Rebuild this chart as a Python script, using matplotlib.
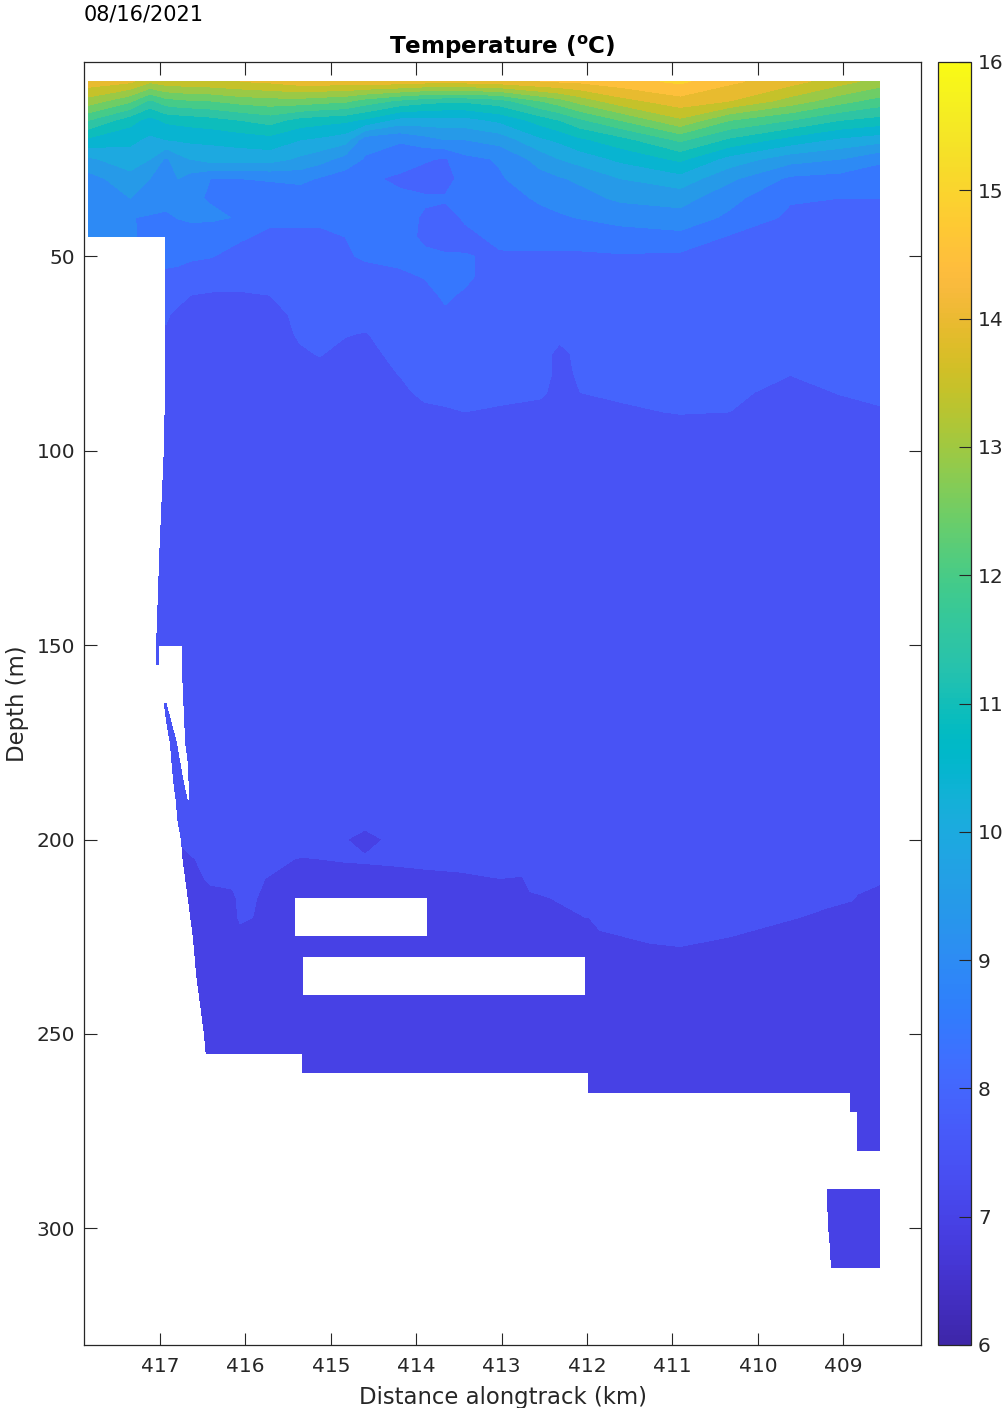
import numpy as np
import matplotlib
matplotlib.use('Agg')
import matplotlib.pyplot as plt
from matplotlib.colors import LinearSegmentedColormap, Normalize
from matplotlib.cm import ScalarMappable

n = np.nan

# parula colours for the colorbar
parula = [
    [0.2422,0.1504,0.6603],[0.2504,0.1650,0.7076],[0.2578,0.1818,0.7511],[0.2647,0.1978,0.7952],
    [0.2706,0.2147,0.8364],[0.2751,0.2342,0.8710],[0.2783,0.2559,0.8991],[0.2803,0.2782,0.9221],
    [0.2813,0.3006,0.9414],[0.2810,0.3228,0.9579],[0.2795,0.3447,0.9717],[0.2760,0.3667,0.9829],
    [0.2699,0.3892,0.9906],[0.2602,0.4123,0.9952],[0.2440,0.4358,0.9988],[0.2206,0.4603,0.9973],
    [0.1963,0.4847,0.9892],[0.1834,0.5074,0.9798],[0.1786,0.5289,0.9682],[0.1764,0.5499,0.9520],
    [0.1687,0.5703,0.9359],[0.1540,0.5902,0.9218],[0.1460,0.6091,0.9079],[0.1380,0.6276,0.8973],
    [0.1248,0.6459,0.8883],[0.1113,0.6635,0.8763],[0.0952,0.6798,0.8598],[0.0689,0.6948,0.8394],
    [0.0297,0.7082,0.8163],[0.0036,0.7203,0.7917],[0.0067,0.7312,0.7660],[0.0433,0.7411,0.7394],
    [0.0964,0.7500,0.7120],[0.1408,0.7584,0.6842],[0.1717,0.7670,0.6554],[0.1938,0.7758,0.6251],
    [0.2161,0.7843,0.5923],[0.2470,0.7918,0.5567],[0.2906,0.7973,0.5188],[0.3406,0.8008,0.4789],
    [0.3909,0.8029,0.4354],[0.4456,0.8024,0.3909],[0.5044,0.7993,0.3480],[0.5616,0.7942,0.3045],
    [0.6174,0.7876,0.2612],[0.6720,0.7793,0.2227],[0.7242,0.7698,0.1910],[0.7738,0.7598,0.1646],
    [0.8203,0.7498,0.1535],[0.8634,0.7406,0.1596],[0.9035,0.7330,0.1774],[0.9393,0.7288,0.2100],
    [0.9728,0.7298,0.2394],[0.9956,0.7434,0.2371],[0.9970,0.7659,0.2199],[0.9952,0.7893,0.2028],
    [0.9892,0.8136,0.1885],[0.9786,0.8386,0.1766],[0.9676,0.8639,0.1643],[0.9610,0.8890,0.1537],
    [0.9597,0.9135,0.1423],[0.9628,0.9373,0.1265],[0.9691,0.9606,0.1064],[0.9769,0.9839,0.0805]]

levels = [6.7,7.2,7.7,8.2,8.7,9.2,9.7,10.2,10.7,11.2,11.7,12.2,12.7,13.2,13.7,14.2,14.7,15.2]

# top 100 m of the section
upper_km = [417.84,417.35,417.12,416.93,416.79,416.65,416.41,416.06,415.71,415.36,415.13,414.83,414.60,414.19,
            413.90,413.66,413.43,413.02,412.55,412.32,412.08,411.61,410.91,410.33,409.62,409.04,408.58]
upper_depth = [5,10,15,20,25,30,35,40,45,50,55,60,65,70,75,80,85,90,95,100]
upper_wall_km = [416.93,416.93,416.93,416.93,416.93,416.93,416.93,416.93,416.93,416.93,416.93,416.93,416.93,
                 416.93,416.93,416.93,416.94,416.94,416.95,416.95]
upper_temp = [
 [14.0,13.8,13.3,13.5,13.5,13.6,13.6,13.7,13.8,14.0,14.0,14.0,14.0,14.0,13.9,13.9,13.9,14.0,14.2,14.25,14.3,14.5,14.8,14.3,13.9,13.4,13.0],
 [13.0,12.3,11.6,12.0,12.1,12.15,12.2,12.4,12.5,12.5,12.4,12.3,12.0,11.6,11.4,11.3,11.3,11.5,12.2,12.5,12.9,13.5,14.0,13.7,13.0,12.4,12.0],
 [11.7,10.9,10.5,10.8,10.85,10.9,11.0,11.2,11.4,11.0,10.9,10.8,10.6,10.0,10.0,10.0,10.0,10.3,10.9,11.2,11.6,12.2,13.1,12.2,11.7,11.2,11.0],
 [10.6,10.3,10.1,10.2,10.25,10.3,10.3,10.4,10.5,10.2,10.1,9.9,8.9,8.75,9.0,9.2,9.2,9.4,10.1,10.3,10.6,11.0,11.8,11.1,10.5,10.1,9.9],
 [9.6,10.0,9.7,9.1,9.5,9.7,9.9,9.9,9.9,9.6,9.4,9.0,8.65,8.45,8.25,8.15,8.55,8.75,9.4,9.7,9.9,10.3,10.8,10.0,9.4,9.2,8.8],
 [9.0,9.5,9.2,9.2,9.2,9.0,8.7,8.7,8.75,8.85,8.65,8.45,8.3,8.1,8.0,8.0,8.4,8.65,9.0,9.15,9.3,9.7,10.0,9.3,8.6,8.5,8.4],
 [8.9,9.2,9.0,8.9,8.9,8.8,8.65,8.5,8.4,8.35,8.35,8.3,8.3,8.3,8.25,8.25,8.35,8.55,8.75,8.85,9.0,9.3,9.4,8.85,8.25,8.2,8.2],
 [8.8,8.72,8.65,8.6,8.72,8.78,8.8,8.65,8.3,8.3,8.3,8.35,8.4,8.35,8.15,8.05,8.25,8.4,8.6,8.65,8.72,8.85,9.0,8.6,8.1,8.05,8.05],
 [8.75,8.75,8.6,8.35,8.4,8.45,8.35,8.25,8.1,8.1,8.1,8.2,8.3,8.3,8.15,8.0,8.1,8.3,8.4,8.4,8.4,8.5,8.55,8.15,8.0,7.95,7.95],
 [n,n,n,8.28,8.27,8.25,8.22,8.05,8.0,8.0,8.05,8.15,8.25,8.28,8.25,8.25,8.22,8.15,8.12,8.12,8.12,8.15,8.1,7.95,7.9,7.9,7.9],
 [n,n,n,8.15,8.13,8.05,7.95,7.9,7.85,7.9,7.95,8.0,8.05,8.15,8.22,8.3,8.28,8.0,8.0,8.0,8.0,8.0,7.95,7.9,7.9,7.9,7.9],
 [n,n,n,8.0,7.85,7.7,7.65,7.65,7.7,7.85,7.9,7.95,7.95,8.0,8.1,8.25,8.15,7.95,7.95,7.95,7.95,7.95,7.9,7.9,7.9,7.9,7.9],
 [n,n,n,7.75,7.6,7.55,7.5,7.5,7.55,7.8,7.85,7.85,7.85,7.9,7.95,8.15,7.95,7.9,7.9,7.9,7.9,7.9,7.9,7.9,7.9,7.9,7.9],
 [n,n,n,7.65,7.55,7.5,7.45,7.45,7.5,7.75,7.85,7.72,7.68,7.85,7.9,7.95,7.9,7.85,7.85,7.8,7.85,7.85,7.85,7.85,7.85,7.85,7.85],
 [n,n,n,7.5,7.5,7.45,7.45,7.45,7.5,7.65,7.72,7.6,7.6,7.8,7.85,7.85,7.85,7.85,7.85,7.6,7.8,7.85,7.85,7.85,7.8,7.85,7.85],
 [n,n,n,7.45,7.45,7.45,7.45,7.45,7.45,7.55,7.6,7.5,7.5,7.72,7.85,7.85,7.85,7.85,7.85,7.6,7.75,7.85,7.85,7.85,7.72,7.8,7.85],
 [n,n,n,7.45,7.45,7.45,7.45,7.45,7.45,7.45,7.5,7.45,7.45,7.6,7.8,7.8,7.8,7.8,7.75,7.6,7.7,7.75,7.8,7.8,7.55,7.72,7.78],
 [n,n,n,7.45,7.45,7.45,7.45,7.45,7.45,7.45,7.45,7.45,7.45,7.5,7.6,7.66,7.7,7.65,7.6,7.55,7.55,7.65,7.72,7.7,7.5,7.55,7.66],
 [n,n,n,7.45,7.45,7.45,7.45,7.45,7.45,7.45,7.45,7.45,7.45,7.45,7.5,7.5,7.55,7.5,7.5,7.5,7.5,7.5,7.55,7.55,7.45,7.5,7.5],
 [n,n,n,7.45,7.45,7.45,7.45,7.45,7.45,7.45,7.45,7.45,7.45,7.45,7.45,7.45,7.45,7.45,7.45,7.45,7.45,7.45,7.45,7.45,7.45,7.45,7.45],
]

# below 100 m; first four columns follow the bottom and the gap beside it
lower_km = [416.93,416.79,416.65,416.41,416.06,415.77,415.43,415.33,415.13,414.83,414.60,414.19,413.87,413.49,
            413.02,412.76,412.67,412.43,412.02,411.98,411.85,411.26,410.91,410.33,409.51,409.18,408.91,408.83,408.58]
lower_depth = [100,125,150,155,160,165,170,175,180,185,190,195,200,205,210,215,220,225,230,235,240,245,250,255,
               260,265,270,275,280,285,290,295,300,305,310]
wall_km = [416.95,417.00,417.04,417.04,416.98,416.95,416.92,416.88,416.86,416.84,416.81,416.79,416.75,416.73,
           416.70,416.67,416.64,416.61,416.59,416.57,416.54,416.51,416.48,416.46,
           416.46,416.46,416.46,416.46,416.46,416.46,416.46,416.46,416.46,416.46,416.46]
strip_km = [416.79,416.79,417.02,417.02,416.97,416.93,416.87,416.81,416.77,416.73,416.68,
            416.41,416.41,416.41,416.41,416.41,416.41,416.41,416.41,416.41,416.41,416.41,416.41,416.41,
            416.41,416.41,416.41,416.41,416.41,416.41,416.41,416.41,416.41,416.41,416.41]
gap_km = [416.60,416.60,416.88,416.88,416.85,416.82,416.79,416.75,416.72,416.70,416.66,
          416.28,416.28,416.28,416.28,416.28,416.28,416.28,416.28,416.28,416.28,416.28,416.28,416.28,
          416.28,416.28,416.28,416.28,416.28,416.28,416.28,416.28,416.28,416.28,416.28]
inner_km = [416.41,416.41,416.74,416.74,416.73,416.72,416.71,416.70,416.67,416.66,416.65,
            416.15,416.15,416.15,416.15,416.15,416.15,416.15,416.15,416.15,416.15,416.15,416.15,416.15,
            416.15,416.15,416.15,416.15,416.15,416.15,416.15,416.15,416.15,416.15,416.15]
far_edge_km = [409.19,409.18,409.17,409.15,409.14]   # 290 to 310 m

band_b = [7.45]*29
band_a = [7.0]*29
gap_row = [7.45,7.45,n]+[7.45]*26
broken_row = [n,n,n]+[7.45]*26
lower_temp = [
 band_b, band_b, band_b,
 gap_row, broken_row, gap_row, gap_row, gap_row, gap_row, gap_row,
 band_b,
 [7.4,7.4,7.4,7.4,7.4,7.4,7.4,7.4,7.4,7.3,7.3,7.35,7.4,7.4,7.4,7.4,7.4,7.4,7.4,7.4,7.4,7.4,7.4,7.4,7.4,7.4,7.4,7.4,7.4],
 [7.25,7.4,7.4,7.4,7.4,7.4,7.4,7.4,7.35,7.21,7.1,7.3,7.4,7.4,7.45,7.45,7.45,7.45,7.5,7.5,7.5,7.5,7.5,7.5,7.5,7.5,7.5,7.5,7.5],
 [7.12,7.3,7.35,7.35,7.35,7.3,7.2,7.18,7.2,7.22,7.23,7.25,7.28,7.3,7.35,7.35,7.4,7.45,7.45,7.45,7.45,7.45,7.45,7.45,7.4,7.4,7.4,7.38,7.35],
 [7.05,7.25,7.28,7.3,7.32,7.2,7.0,7.0,7.0,7.1,7.1,7.12,7.13,7.15,7.2,7.18,7.3,7.35,7.4,7.4,7.4,7.4,7.4,7.4,7.35,7.32,7.3,7.28,7.25],
 [7.0,7.1,7.1,7.12,7.3,7.15,7.0,7.0,7.0,7.0,7.0,7.0,7.0,7.0,7.05,7.05,7.15,7.2,7.3,7.3,7.35,7.35,7.35,7.35,7.3,7.25,7.22,7.18,7.1],
 [7.0,7.0,7.0,7.0,7.3,7.1,7.0,n,n,n,n,n,7.0,7.0,7.0,7.0,7.0,7.05,7.2,7.2,7.3,7.3,7.3,7.35,7.2,7.15,7.1,7.05,7.0],
 [7.0,7.0,7.0,7.0,7.0,7.0,7.0,7.0,7.0,7.0,7.0,7.0,7.0,7.0,7.0,7.0,7.0,7.0,7.0,7.0,7.15,7.25,7.25,7.2,7.05,7.0,7.0,7.0,7.0],
 [7.0,7.0,7.0,7.0,7.0,7.0,7.0,7.0,7.0,7.0,7.0,7.0,7.0,7.0,7.0,7.0,7.0,7.0,7.0,7.0,7.0,7.1,7.15,7.05,7.0,7.0,7.0,7.0,7.0],
 [7.0,7.0,7.0,7.0,7.0,7.0,7.0,7.0,n,n,n,n,n,n,n,n,n,n,7.0,7.0,7.0,7.0,7.0,7.0,7.0,7.0,7.0,7.0,7.0],
 band_a, band_a, band_a, band_a,
 [n,n,n,n,n,n,n,7.0,7.0,7.0,7.0,7.0,7.0,7.0,7.0,7.0,7.0,7.0,7.0,7.0,7.0,7.0,7.0,7.0,7.0,7.0,7.0,7.0,7.0],
 [n,n,n,n,n,n,n,n,n,n,n,n,n,n,n,n,n,n,n,7.0,7.0,7.0,7.0,7.0,7.0,7.0,7.0,7.0,7.0],
 [n,n,n,n,n,n,n,n,n,n,n,n,n,n,n,n,n,n,n,n,n,n,n,n,n,n,7.0,7.0,7.0],
 [n,n,n,n,n,n,n,n,n,n,n,n,n,n,n,n,n,n,n,n,n,n,n,n,n,n,n,7.0,7.0],
 [n,n,n,n,n,n,n,n,n,n,n,n,n,n,n,n,n,n,n,n,n,n,n,n,n,n,n,7.0,7.0],
 [n]*29,
 [n,n,n,n,n,n,n,n,n,n,n,n,n,n,n,n,n,n,n,n,n,n,n,n,n,7.0,7.0,7.0,7.0],
 [n,n,n,n,n,n,n,n,n,n,n,n,n,n,n,n,n,n,n,n,n,n,n,n,n,7.0,7.0,7.0,7.0],
 [n,n,n,n,n,n,n,n,n,n,n,n,n,n,n,n,n,n,n,n,n,n,n,n,n,7.0,7.0,7.0,7.0],
 [n,n,n,n,n,n,n,n,n,n,n,n,n,n,n,n,n,n,n,n,n,n,n,n,n,7.0,7.0,7.0,7.0],
 [n,n,n,n,n,n,n,n,n,n,n,n,n,n,n,n,n,n,n,n,n,n,n,n,n,7.0,7.0,7.0,7.0],
]

x_ticks = [417,416,415,414,413,412,411,410,409]
y_ticks = [50,100,150,200,250,300]
cbar_ticks = [6,7,8,9,10,11,12,13,14,15,16]

ink = '#262626'
W, H = 1008, 1408
cmap = LinearSegmentedColormap.from_list('parula', parula, N=256)
norm = Normalize(6, 16)

fig = plt.figure(figsize=(W/100, H/100), dpi=100)
ax = fig.add_axes([84/W, 1-1345/H, (921-84)/W, (1345-62)/H])
cax = fig.add_axes([938/W, 1-1345/H, (971-938)/W, (1345-62)/H])

# top part
X_up, Y_up = np.meshgrid(upper_km, upper_depth)
X_up[:, 3] = upper_wall_km
ax.contourf(X_up, Y_up, np.array(upper_temp), levels=levels, cmap=cmap, norm=norm, corner_mask=False)

# lower part
X_low, Y_low = np.meshgrid(lower_km, lower_depth)
X_low[:, 0] = wall_km
X_low[:, 1] = strip_km
X_low[:, 2] = gap_km
X_low[:, 3] = inner_km
X_low[-5:, 25] = far_edge_km
ax.contourf(X_low, Y_low, np.array(lower_temp), levels=levels, cmap=cmap, norm=norm, corner_mask=False)

ax.set_xlim(417.89, 408.09)
ax.set_ylim(330, 0)
ax.set_xticks(x_ticks)
ax.set_yticks(y_ticks)
ax.tick_params(direction='in', length=9, width=0.8, top=True, right=True, color=ink, labelcolor=ink, labelsize=14.5)
ax.tick_params(axis='x', pad=9)
ax.tick_params(axis='y', pad=6.5)
for s in ax.spines.values():
    s.set_color(ink)
    s.set_linewidth(0.9)
ax.set_xlabel('Distance alongtrack (km)', fontsize=16.4, color=ink, labelpad=6.5)
ax.set_ylabel('Depth (m)', fontsize=16.4, color=ink, labelpad=5)
ax.set_title(r'Temperature ($\mathbf{^{o}}$C)', fontsize=16.6, fontweight='bold', color='black', pad=6)
fig.text(84/W, 1-14/H, '08/16/2021', fontsize=15, color='black', ha='left', va='center')

cb = fig.colorbar(ScalarMappable(norm=norm, cmap=cmap), cax=cax, ticks=cbar_ticks)
cb.ax.tick_params(direction='in', length=9, width=0.8, color=ink, labelcolor=ink, labelsize=14.5, pad=5)
cb.outline.set_edgecolor(ink)
cb.outline.set_linewidth(0.9)

fig.savefig('out.png', dpi=100)
